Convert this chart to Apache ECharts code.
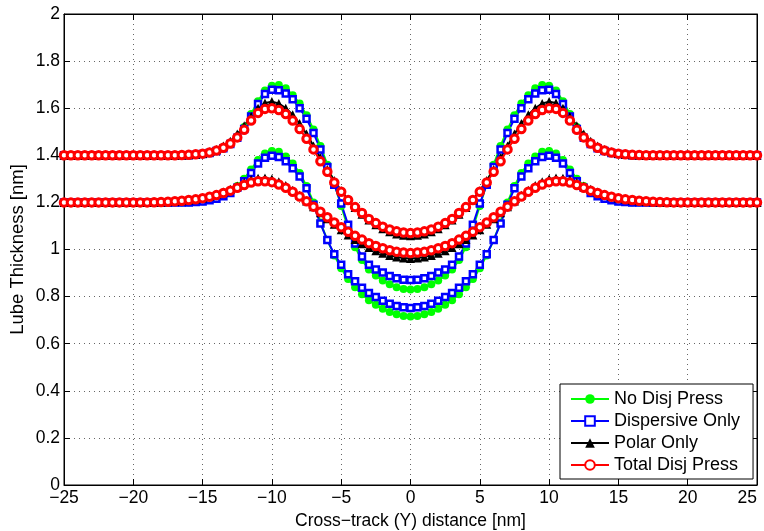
<!DOCTYPE html>
<html><head><meta charset="utf-8">
<script src="https://cdn.jsdelivr.net/npm/echarts@6/dist/echarts.min.js"></script>
<style>html,body{margin:0;padding:0;background:#fff}#c{width:764px;height:531px}</style>
</head><body><div id="c"></div>
<script>
const xs = [-25,-24.5,-24,-23.5,-23,-22.5,-22,-21.5,-21,-20.5,-20,-19.5,-19,-18.5,-18,-17.5,-17,-16.5,-16,-15.5,-15,-14.5,-14,-13.5,-13,-12.5,-12,-11.5,-11,-10.5,-10,-9.5,-9,-8.5,-8,-7.5,-7,-6.5,-6,-5.5,-5,-4.5,-4,-3.5,-3,-2.5,-2,-1.5,-1,-0.5,0,0.5,1,1.5,2,2.5,3,3.5,4,4.5,5,5.5,6,6.5,7,7.5,8,8.5,9,9.5,10,10.5,11,11.5,12,12.5,13,13.5,14,14.5,15,15.5,16,16.5,17,17.5,18,18.5,19,19.5,20,20.5,21,21.5,22,22.5,23,23.5,24,24.5,25];

// No Disj Press (upper, lower)
const greenUpper = [1.4,1.4,1.4,1.4,1.4,1.4,1.4,1.4,1.4,1.4,1.4,1.4,1.4,1.4,1.4,1.4,1.4,1.4,1.4,1.402,1.405,1.41,1.418,1.432,1.452,1.48,1.52,1.575,1.63,1.675,1.695,1.698,1.685,1.655,1.62,1.57,1.51,1.44,1.36,1.28,1.185,1.09,1.01,0.955,0.915,0.89,0.868,0.852,0.84,0.832,0.83,0.832,0.84,0.852,0.868,0.89,0.915,0.955,1.01,1.09,1.185,1.28,1.36,1.44,1.51,1.57,1.62,1.655,1.685,1.698,1.695,1.675,1.63,1.575,1.52,1.48,1.452,1.432,1.418,1.41,1.405,1.402,1.4,1.4,1.4,1.4,1.4,1.4,1.4,1.4,1.4,1.4,1.4,1.4,1.4,1.4,1.4,1.4,1.4,1.4,1.4];
const greenLower = [1.2,1.2,1.2,1.2,1.2,1.2,1.2,1.2,1.2,1.2,1.2,1.2,1.2,1.2,1.2,1.2,1.2,1.2,1.2,1.202,1.205,1.21,1.218,1.23,1.245,1.27,1.3,1.34,1.38,1.408,1.418,1.415,1.395,1.365,1.325,1.27,1.2,1.115,1.04,0.975,0.92,0.875,0.84,0.81,0.785,0.765,0.748,0.735,0.725,0.718,0.715,0.718,0.725,0.735,0.748,0.765,0.785,0.81,0.84,0.875,0.92,0.975,1.04,1.115,1.2,1.27,1.325,1.365,1.395,1.415,1.418,1.408,1.38,1.34,1.3,1.27,1.245,1.23,1.218,1.21,1.205,1.202,1.2,1.2,1.2,1.2,1.2,1.2,1.2,1.2,1.2,1.2,1.2,1.2,1.2,1.2,1.2,1.2,1.2,1.2,1.2];
// Dispersive Only
const blueUpper = [1.4,1.4,1.4,1.4,1.4,1.4,1.4,1.4,1.4,1.4,1.4,1.4,1.4,1.4,1.4,1.4,1.4,1.4,1.4,1.402,1.405,1.41,1.418,1.43,1.448,1.475,1.512,1.565,1.618,1.66,1.678,1.676,1.662,1.638,1.6,1.555,1.495,1.425,1.35,1.275,1.195,1.105,1.025,0.97,0.935,0.915,0.902,0.888,0.878,0.872,0.87,0.872,0.878,0.888,0.902,0.915,0.935,0.97,1.025,1.105,1.195,1.275,1.35,1.425,1.495,1.555,1.6,1.638,1.662,1.676,1.678,1.66,1.618,1.565,1.512,1.475,1.448,1.43,1.418,1.41,1.405,1.402,1.4,1.4,1.4,1.4,1.4,1.4,1.4,1.4,1.4,1.4,1.4,1.4,1.4,1.4,1.4,1.4,1.4,1.4,1.4];
const blueLower = [1.2,1.2,1.2,1.2,1.2,1.2,1.2,1.2,1.2,1.2,1.2,1.2,1.2,1.2,1.2,1.2,1.2,1.2,1.2,1.202,1.204,1.209,1.216,1.226,1.24,1.262,1.29,1.325,1.365,1.39,1.398,1.393,1.375,1.345,1.31,1.26,1.19,1.11,1.04,0.98,0.935,0.895,0.865,0.838,0.815,0.798,0.782,0.77,0.76,0.755,0.752,0.755,0.76,0.77,0.782,0.798,0.815,0.838,0.865,0.895,0.935,0.98,1.04,1.11,1.19,1.26,1.31,1.345,1.375,1.393,1.398,1.39,1.365,1.325,1.29,1.262,1.24,1.226,1.216,1.209,1.204,1.202,1.2,1.2,1.2,1.2,1.2,1.2,1.2,1.2,1.2,1.2,1.2,1.2,1.2,1.2,1.2,1.2,1.2,1.2,1.2];
// Polar Only
const blackUpper = [1.4,1.4,1.4,1.4,1.4,1.4,1.4,1.4,1.4,1.4,1.4,1.4,1.4,1.4,1.4,1.4,1.4,1.401,1.402,1.404,1.408,1.415,1.425,1.44,1.46,1.49,1.525,1.565,1.6,1.622,1.628,1.62,1.6,1.572,1.535,1.49,1.44,1.39,1.34,1.293,1.25,1.21,1.178,1.15,1.125,1.105,1.088,1.075,1.066,1.06,1.058,1.06,1.066,1.075,1.088,1.105,1.125,1.15,1.178,1.21,1.25,1.293,1.34,1.39,1.44,1.49,1.535,1.572,1.6,1.62,1.628,1.622,1.6,1.565,1.525,1.49,1.46,1.44,1.425,1.415,1.408,1.404,1.402,1.401,1.4,1.4,1.4,1.4,1.4,1.4,1.4,1.4,1.4,1.4,1.4,1.4,1.4,1.4,1.4,1.4,1.4];
const blackLower = [1.2,1.2,1.2,1.2,1.2,1.2,1.2,1.2,1.2,1.2,1.2,1.2,1.2,1.201,1.202,1.203,1.205,1.207,1.21,1.214,1.219,1.226,1.234,1.244,1.256,1.27,1.284,1.296,1.303,1.304,1.299,1.288,1.272,1.252,1.23,1.206,1.181,1.156,1.131,1.107,1.084,1.062,1.042,1.024,1.008,0.995,0.984,0.975,0.968,0.964,0.962,0.964,0.968,0.975,0.984,0.995,1.008,1.024,1.042,1.062,1.084,1.107,1.131,1.156,1.181,1.206,1.23,1.252,1.272,1.288,1.299,1.304,1.303,1.296,1.284,1.27,1.256,1.244,1.234,1.226,1.219,1.214,1.21,1.207,1.205,1.203,1.202,1.201,1.2,1.2,1.2,1.2,1.2,1.2,1.2,1.2,1.2,1.2,1.2,1.2,1.2];
// Total Disj Press
const redUpper = [1.4,1.4,1.4,1.4,1.4,1.4,1.4,1.4,1.4,1.4,1.4,1.4,1.4,1.4,1.4,1.4,1.4,1.401,1.402,1.404,1.407,1.412,1.42,1.432,1.45,1.476,1.508,1.548,1.58,1.597,1.6,1.592,1.575,1.548,1.512,1.47,1.425,1.375,1.33,1.285,1.245,1.21,1.18,1.155,1.13,1.112,1.097,1.085,1.077,1.072,1.07,1.072,1.077,1.085,1.097,1.112,1.13,1.155,1.18,1.21,1.245,1.285,1.33,1.375,1.425,1.47,1.512,1.548,1.575,1.592,1.6,1.597,1.58,1.548,1.508,1.476,1.45,1.432,1.42,1.412,1.407,1.404,1.402,1.401,1.4,1.4,1.4,1.4,1.4,1.4,1.4,1.4,1.4,1.4,1.4,1.4,1.4,1.4,1.4,1.4,1.4];
const redLower = [1.2,1.2,1.2,1.2,1.2,1.2,1.2,1.2,1.2,1.2,1.2,1.2,1.2,1.201,1.202,1.203,1.205,1.207,1.21,1.213,1.218,1.224,1.231,1.24,1.25,1.262,1.274,1.284,1.29,1.29,1.286,1.276,1.262,1.245,1.225,1.205,1.182,1.16,1.137,1.115,1.095,1.075,1.058,1.042,1.027,1.015,1.005,0.997,0.99,0.987,0.985,0.987,0.99,0.997,1.005,1.015,1.027,1.042,1.058,1.075,1.095,1.115,1.137,1.16,1.182,1.205,1.225,1.245,1.262,1.276,1.286,1.29,1.29,1.284,1.274,1.262,1.25,1.24,1.231,1.224,1.218,1.213,1.21,1.207,1.205,1.203,1.202,1.201,1.2,1.2,1.2,1.2,1.2,1.2,1.2,1.2,1.2,1.2,1.2,1.2,1.2];

const legendNames = ['No Disj Press','Dispersive Only','Polar Only','Total Disj Press'];
const xTitle = 'Cross\u2212track (Y) distance [nm]';
const yTitle = 'Lube Thickness [nm]';

const FONT = '"Liberation Sans", Arial, Helvetica, sans-serif';
const pairs = ys => xs.map((x, i) => [x, ys[i]]);

function mk(name, ys, color, symbol, size, fill, bw) {
  return {
    name, type: 'line', data: pairs(ys), symbol, symbolSize: size,
    showAllSymbol: true, showSymbol: true, animation: false,
    lineStyle: { color, width: 2 },
    itemStyle: { color: fill, borderColor: color, borderWidth: bw },
    emphasis: { disabled: true }
  };
}

const chart = echarts.init(document.getElementById('c'), null, { renderer: 'canvas' });
const bad = [greenUpper, greenLower, blueUpper, blueLower, blackUpper, blackLower, redUpper, redLower].some(a => a.length !== xs.length);
const tickFmt = v => (v < 0 ? '\u2212' + Math.abs(v) : String(v));
const gridLine = { show: true, lineStyle: { color: '#666', type: [1, 4], width: 1 } };
const tick = { show: true, inside: true, length: 6, lineStyle: { color: '#000' } };
chart.setOption({
  backgroundColor: '#fff',
  animation: false,
  textStyle: { fontFamily: FONT },
  title: bad ? { text: 'LENGTH MISMATCH', left: 'center', top: 'middle' } : undefined,
  grid: { left: 64, right: 7, top: 14, bottom: 46, containLabel: false, outerBoundsMode: 'none', show: true, borderColor: '#000', borderWidth: 1, backgroundColor: 'transparent' },
  legend: {
    data: legendNames, orient: 'vertical', left: 560, top: 384,
    backgroundColor: '#fff', borderColor: '#000', borderWidth: 1,
    padding: [6, 13, 5, 10], itemGap: 4, itemWidth: 38, itemHeight: 12,
    textStyle: { fontSize: 18, lineHeight: 18, color: '#000', fontFamily: FONT }
  },
  xAxis: [{
    type: 'value', min: -25, max: 25, interval: 5,
    name: xTitle, nameLocation: 'middle', nameGap: 17,
    nameTextStyle: { fontSize: 17.5, color: '#000', fontFamily: FONT, verticalAlign: 'top' },
    axisLine: { show: true, onZero: false, lineStyle: { color: '#000', width: 1 } },
    axisTick: tick,
    axisLabel: { formatter: tickFmt, fontSize: 17.5, color: '#000', margin: 4, fontFamily: FONT, alignMaxLabel: 'right' },
    splitLine: gridLine
  }, {
    type: 'value', min: -25, max: 25, interval: 5, position: 'top',
    axisLine: { show: true, onZero: false, lineStyle: { color: '#000' } },
    axisTick: tick, axisLabel: { show: false }, splitLine: { show: false }
  }],
  yAxis: [{
    type: 'value', min: 0, max: 2, interval: 0.2,
    name: yTitle, nameLocation: 'middle', nameGap: 37, nameMoveOverlap: false,
    nameTextStyle: { fontSize: 18.5, color: '#000', fontFamily: FONT },
    axisLine: { show: true, onZero: false, lineStyle: { color: '#000', width: 1 } },
    axisTick: tick,
    axisLabel: { formatter: v => String(Math.round(v * 10) / 10), fontSize: 17.5, color: '#000', margin: 4, fontFamily: FONT },
    splitLine: gridLine
  }, {
    type: 'value', min: 0, max: 2, interval: 0.2, position: 'right',
    axisLine: { show: true, onZero: false, lineStyle: { color: '#000' } },
    axisTick: tick, axisLabel: { show: false }, splitLine: { show: false }
  }],
  series: [
    mk(legendNames[0], greenUpper, '#00ff00', 'circle', 8, '#00ff00', 0),
    mk(legendNames[0], greenLower, '#00ff00', 'circle', 8, '#00ff00', 0),
    mk(legendNames[1], blueUpper, '#0000ff', 'rect', 6, '#ffffff', 2.5),
    mk(legendNames[1], blueLower, '#0000ff', 'rect', 6, '#ffffff', 2.5),
    mk(legendNames[2], blackUpper, '#000000', 'triangle', 9, '#000000', 0),
    mk(legendNames[2], blackLower, '#000000', 'triangle', 9, '#000000', 0),
    mk(legendNames[3], redUpper, '#ff0000', 'circle', 7.5, '#ffffff', 3),
    mk(legendNames[3], redLower, '#ff0000', 'circle', 7.5, '#ffffff', 3)
  ]
});
</script>
</body></html>
